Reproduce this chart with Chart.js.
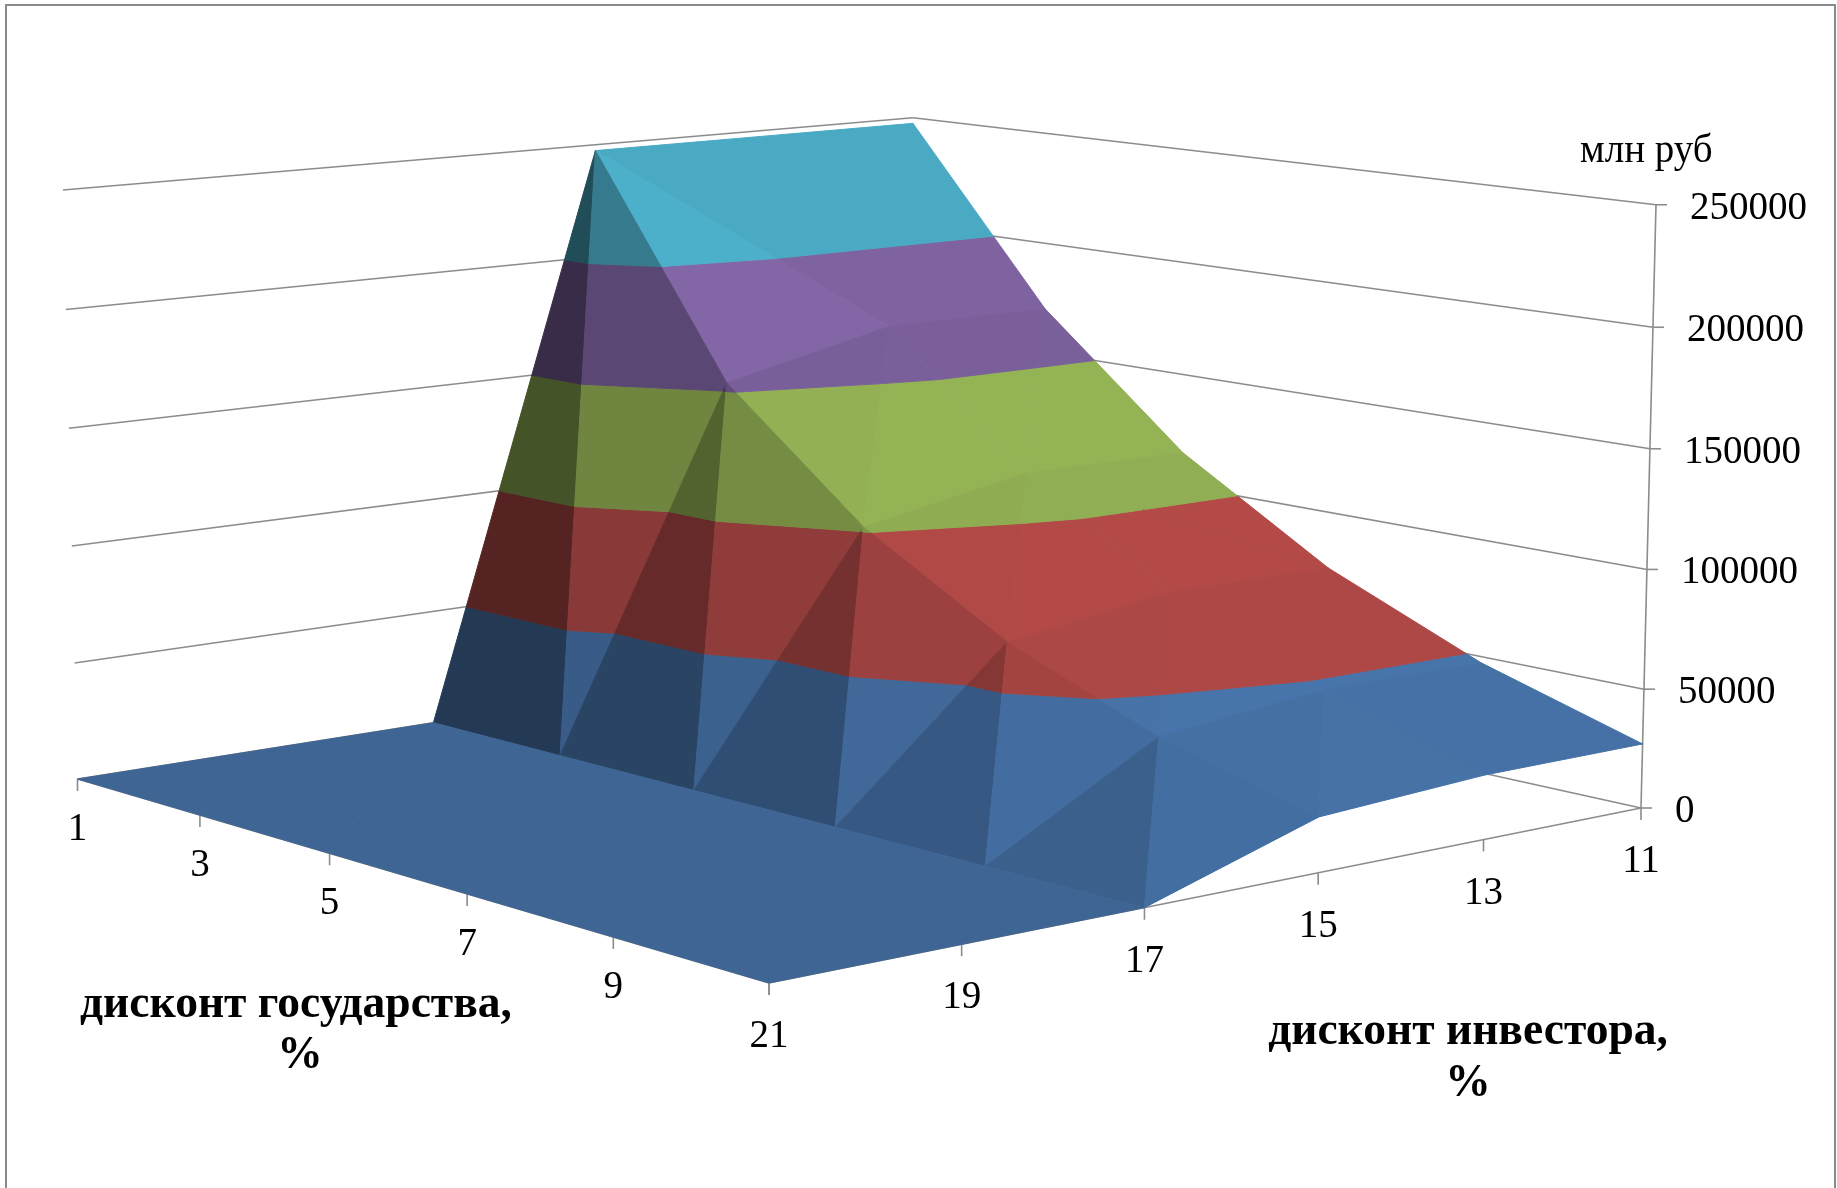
<!DOCTYPE html>
<html>
<head>
<meta charset="utf-8">
<style>
    html, body { margin: 0; background: #ffffff; overflow: hidden; }
    .frame { position: absolute; left: 5px; top: 4px; width: 1827px; height: 1400px; border: 2px solid #8a8a8a; }
    canvas { position: absolute; left: 0; top: 0; }
</style>
<script src="https://cdn.jsdelivr.net/npm/chart.js@4"></script>
</head>
<body>
<div class="frame"></div>
<canvas id="surface" width="1837" height="1188"></canvas>
<script>
// depth axis and front axis of the surface
const govDiscounts = [1, 3, 5, 7, 9, 11];
const investorDiscounts = [21, 19, 17, 15, 13, 11];

// net value, mln rub, one row per state discount, columns follow investorDiscounts
const gov1 = [0, 0, 0, 247400, 247400, 247400];
const gov3 = [0, 0, 0, 153400, 170100, 170100];
const gov5 = [0, 0, 0, 101800, 115400, 114900];
const gov7 = [0, 0, 0, 65500, 75700, 75500];
const gov9 = [0, 0, 0, 39900, 47400, 47300];
const gov11 = [0, 0, 0, 22500, 26600, 27000];
const surfaceRows = [gov1, gov3, gov5, gov7, gov9, gov11];

const valueTicks = [0, 50000, 100000, 150000, 200000, 250000];
const govTickLabels = ['1', '3', '5', '7', '9', ''];
const investorTickLabels = ['21', '19', '17', '15', '13', '11'];
const bandColors = ['#4F81BD', '#C0504D', '#9BBB59', '#8064A2', '#4BACC6'];

const GRID_COLOR = '#8c8c8c';
const TEXT_FONT = '39px "Liberation Serif"';
const TITLE_FONT = 'bold 45.5px "Liberation Serif"';
const VALUE_MAX = valueTicks[valueTicks.length - 1];

// camera: floor corners on the page and the point where verticals converge
const cornerL = { x: 77.5, y: 779 };
const cornerF = { x: 769, y: 983 };
const cornerR = { x: 1641, y: 808 };
const cornerB = { x: 912, y: 647 };
const vanish = { x: 855, y: 32400 };
const leftTopY = 190;

const sumX = cornerL.x - cornerF.x + cornerR.x - cornerB.x;
const sumY = cornerL.y - cornerF.y + cornerR.y - cornerB.y;
const d1x = cornerF.x - cornerR.x, d1y = cornerF.y - cornerR.y;
const d2x = cornerB.x - cornerR.x, d2y = cornerB.y - cornerR.y;
const det = d1x * d2y - d2x * d1y;
const wU = (sumX * d2y - d2x * sumY) / det;
const wV = (d1x * sumY - sumX * d1y) / det;
const wZ = (leftTopY - cornerL.y) / (vanish.y - leftTopY);

function project(u, v, z) {
    const w = 1 + wU * u + wV * v + wZ * z;
    const x = ((1 + wU) * cornerF.x - cornerL.x) * u + ((1 + wV) * cornerB.x - cornerL.x) * v + cornerL.x + wZ * vanish.x * z;
    const y = ((1 + wU) * cornerF.y - cornerL.y) * u + ((1 + wV) * cornerB.y - cornerL.y) * v + cornerL.y + wZ * vanish.y * z;
    return { x: x / w, y: y / w, w: w };
}

const uAt = i => i / (govDiscounts.length - 1);
const vAt = j => j / (investorDiscounts.length - 1);

// lighting of a facet, from its normal in box units
const BOX_HEIGHT = 0.6;
const AMBIENT = 0.28;
const LIGHT = [0.52, -0.03, 0.6];
const HIGHLIGHT = [0.743, -0.13, 0.658];

function facetShade(a, b, c) {
    const e1 = [b.u - a.u, b.v - a.v, (b.z - a.z) * BOX_HEIGHT];
    const e2 = [c.u - a.u, c.v - a.v, (c.z - a.z) * BOX_HEIGHT];
    let n = [
        e1[1] * e2[2] - e1[2] * e2[1],
        e1[2] * e2[0] - e1[0] * e2[2],
        e1[0] * e2[1] - e1[1] * e2[0]
    ];
    if (n[2] < 0) n = n.map(k => -k);
    const len = Math.hypot(n[0], n[1], n[2]);
    const dot = (n[0] * LIGHT[0] + n[1] * LIGHT[1] + n[2] * LIGHT[2]) / len;
    const spot = (n[0] * HIGHLIGHT[0] + n[1] * HIGHLIGHT[1] + n[2] * HIGHLIGHT[2]) / len;
    return 0.89 * (AMBIENT + Math.max(0, dot) + 0.08 * Math.pow(Math.max(0, spot), 60));
}

function shadeColor(hex, f) {
    const r = Math.min(255, Math.round(parseInt(hex.slice(1, 3), 16) * f));
    const g = Math.min(255, Math.round(parseInt(hex.slice(3, 5), 16) * f));
    const b = Math.min(255, Math.round(parseInt(hex.slice(5, 7), 16) * f));
    return `rgb(${r}, ${g}, ${b})`;
}

// keeps the part of a polygon on one side of a height level
function clipByLevel(poly, level, keepAbove) {
    const out = [];
    for (let i = 0; i < poly.length; i++) {
        const p = poly[i], q = poly[(i + 1) % poly.length];
        const pIn = keepAbove ? p.z >= level : p.z <= level;
        const qIn = keepAbove ? q.z >= level : q.z <= level;
        if (pIn) out.push(p);
        if (pIn !== qIn) {
            const t = (level - p.z) / (q.z - p.z);
            out.push({ u: p.u + (q.u - p.u) * t, v: p.v + (q.v - p.v) * t, z: level });
        }
    }
    return out;
}

function vertex(i, j) {
    return { u: uAt(i), v: vAt(j), z: surfaceRows[i][j] / VALUE_MAX };
}

// every cell is cut along its higher diagonal
function buildFacets() {
    const facets = [];
    for (let i = 0; i < govDiscounts.length - 1; i++) {
        for (let j = 0; j < investorDiscounts.length - 1; j++) {
            const a = vertex(i, j), b = vertex(i + 1, j);
            const c = vertex(i, j + 1), d = vertex(i + 1, j + 1);
            if (a.z + d.z > b.z + c.z) {
                facets.push([a, b, d], [a, d, c]);
            } else {
                facets.push([a, b, c], [b, d, c]);
            }
        }
    }
    const depth = t => t.reduce((sum, p) => sum + project(p.u, p.v, p.z).w, 0);
    return facets.sort((s, t) => depth(t) - depth(s));
}

function polygonDataset(poly, color) {
    const data = poly.concat([poly[0]]).map(p => {
        const q = project(p.u, p.v, p.z);
        return { x: q.x, y: q.y };
    });
    return {
        data: data,
        showLine: true,
        fill: 'shape',
        backgroundColor: color,
        borderColor: color,
        borderWidth: 1,
        borderJoinStyle: 'bevel',
        pointRadius: 0,
        tension: 0
    };
}

function lineDataset(points) {
    return {
        data: points,
        showLine: true,
        fill: false,
        borderColor: GRID_COLOR,
        borderWidth: 1.6,
        pointRadius: 0,
        tension: 0
    };
}

function buildDatasets() {
    const sets = [];
    const seg = (a, b) => sets.push(lineDataset([a, b]));

    // walls
    valueTicks.forEach(value => {
        const z = value / VALUE_MAX;
        seg(project(0, 0, z), project(0, 1, z));
        seg(project(0, 1, z), project(1, 1, z));
        const p = project(1, 1, z);
        seg(p, { x: p.x + 11, y: p.y });
    });
    seg(project(1, 1, 0), project(1, 1, 1));

    // floor axes and their ticks
    seg(project(0, 0, 0), project(1, 0, 0));
    seg(project(1, 0, 0), project(1, 1, 0));
    govDiscounts.forEach((g, i) => {
        const p = project(uAt(i), 0, 0);
        seg(p, { x: p.x, y: p.y + 12 });
    });
    investorDiscounts.forEach((d, j) => {
        const p = project(1, vAt(j), 0);
        seg(p, { x: p.x, y: p.y + 12 });
    });

    // surface, split into one colour per value band
    buildFacets().forEach(tri => {
        const f = facetShade(tri[0], tri[1], tri[2]);
        bandColors.forEach((color, k) => {
            const low = valueTicks[k] / VALUE_MAX;
            const high = valueTicks[k + 1] / VALUE_MAX;
            let poly = clipByLevel(tri, high, false);
            if (k > 0) poly = clipByLevel(poly, low, true);
            if (poly.length < 3) return;
            if (k > 0 && poly.every(p => p.z === low)) return;
            sets.push(polygonDataset(poly, shadeColor(color, f)));
        });
    });

    // the first dataset is painted last
    return sets.reverse();
}

const axisText = {
    id: 'axisText',
    afterDraw(chart) {
        const ctx = chart.ctx;
        ctx.save();
        ctx.fillStyle = '#000000';
        ctx.textBaseline = 'alphabetic';

        ctx.font = TEXT_FONT;
        ctx.textAlign = 'center';
        govTickLabels.forEach((label, i) => {
            const p = project(uAt(i), 0, 0);
            ctx.fillText(label, p.x, p.y + 61);
        });
        investorTickLabels.forEach((label, j) => {
            const p = project(1, vAt(j), 0);
            ctx.fillText(label, p.x, p.y + 64);
        });

        ctx.textAlign = 'left';
        valueTicks.forEach(value => {
            const p = project(1, 1, value / VALUE_MAX);
            ctx.fillText(String(value), p.x + 34, p.y + 14);
        });
        ctx.fillText('млн руб', 1580, 162);

        ctx.font = TITLE_FONT;
        ctx.textAlign = 'center';
        ctx.fillText('дисконт государства,', 296, 1017);
        ctx.fillText('%', 300, 1068);
        ctx.fillText('дисконт инвестора,', 1468, 1044);
        ctx.fillText('%', 1468, 1096);
        ctx.restore();
    }
};

const chart = new Chart(document.getElementById('surface').getContext('2d'), {
    type: 'scatter',
    data: { datasets: buildDatasets() },
    options: {
        responsive: false,
        animation: false,
        events: [],
        layout: { padding: 0 },
        scales: {
            x: { type: 'linear', min: 0, max: 1837, display: false },
            y: { type: 'linear', min: 0, max: 1188, reverse: true, display: false }
        },
        plugins: {
            legend: { display: false },
            tooltip: { enabled: false }
        }
    },
    plugins: [axisText]
});
</script>
</body>
</html>
